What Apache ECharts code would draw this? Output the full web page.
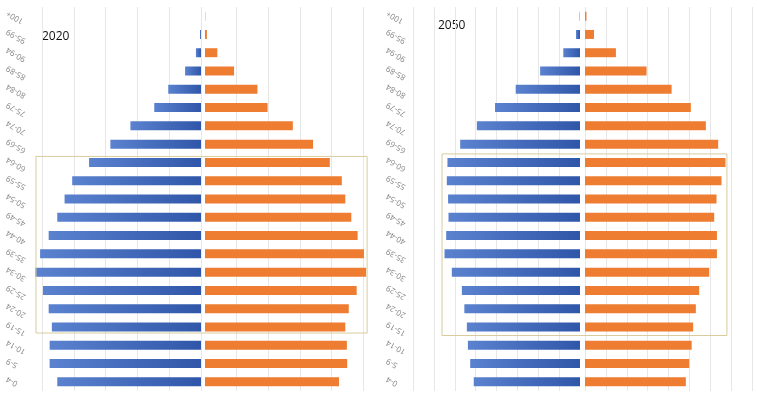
<!DOCTYPE html>
<html>
<head>
<meta charset="utf-8">
<script src="https://cdn.jsdelivr.net/npm/echarts@6/dist/echarts.min.js"></script>
<style>
html,body{margin:0;padding:0;background:#fff;}
#c{width:757px;height:394px;}
</style>
</head>
<body>
<div id="c"></div>
<script>
// Age groups, bottom to top
const categories = ['0-4','5-9','10-14','15-19','20-24','25-29','30-34','35-39','40-44','45-49','50-54','55-59','60-64','65-69','70-74','75-79','80-84','85-89','90-94','95-99','100+'];

// 2020 (units = one gridline step)
const male2020   = [4.52,4.76,4.76,4.69,4.79,4.97,5.21,5.06,4.79,4.52,4.29,4.05,3.52,2.85,2.22,1.47,1.03,0.50,0.16,0.03,0];
const female2020 = [4.24,4.50,4.49,4.44,4.55,4.80,5.10,5.03,4.83,4.63,4.44,4.33,3.95,3.42,2.78,1.98,1.66,0.92,0.39,0.06,0.01];

// 2050 (units = one gridline step)
const male2050   = [5.09,5.26,5.37,5.42,5.54,5.66,6.14,6.49,6.41,6.30,6.32,6.38,6.35,5.74,4.94,4.07,3.08,1.91,0.80,0.19,0.02];
const female2050 = [4.83,4.99,5.11,5.18,5.31,5.47,5.95,6.32,6.32,6.19,6.30,6.54,6.73,6.38,5.79,5.07,4.15,2.95,1.48,0.43,0.07];

const panelTitles = ['2020','2050'];
const axisMax = [5, 8];
// highlighted working-age band
const highlightFrom = '15-19';
const highlightTo = '60-64';

const chart = echarts.init(document.getElementById('c'));

const blueGrad = new echarts.graphic.LinearGradient(0,0,1,0,[
  {offset:0,color:'#5b82cf'},{offset:1,color:'#2f56a8'}
]);
const orange = '#ee7d31';
const gridColor = '#e7e7e7';

const grids = [
  {left:42, top:7, width:159, height:384},
  {left:205, top:7, width:158, height:384},
  {left:413, top:7, width:167, height:384},
  {left:585, top:7, width:167, height:384}
];

function xAx(gi, max, inverse, showZero){
  return {
    type:'value', gridIndex:gi, min:0, max:max, interval:1, inverse:inverse,
    axisLabel:{show:false}, axisLine:{show:false}, axisTick:{show:false},
    splitLine:{show:true, lineStyle:{color:gridColor,width:1}, showMinLine:showZero}
  };
}
function yAx(gi, showLabels, margin){
  return {
    type:'category', gridIndex:gi, data:categories,
    axisLine:{show:false, onZero:false}, axisTick:{show:false},
    axisLabel:{show:showLabels, rotate:150, fontSize:8, color:'#868686', margin:margin,
               align:'right', verticalAlign:'top', fontFamily:'Open Sans'},
    splitLine:{show:false}
  };
}

const option = {
  animation:false,
  backgroundColor:'#ffffff',
  grid: grids,
  xAxis:[
    xAx(0, axisMax[0], true, true),
    xAx(1, axisMax[0], false, false),
    xAx(2, axisMax[1], true, false),
    xAx(3, axisMax[1], false, true)
  ],
  yAxis:[ yAx(0,true,37), yAx(1,false,0), yAx(2,true,28), yAx(3,false,0) ],
  series:[
    {type:'bar', xAxisIndex:0, yAxisIndex:0, data:male2020, barWidth:9, clip:false, itemStyle:{color:blueGrad}},
    {type:'bar', xAxisIndex:1, yAxisIndex:1, data:female2020, barWidth:9, clip:false, itemStyle:{color:orange}},
    {type:'bar', xAxisIndex:2, yAxisIndex:2, data:male2050, barWidth:9, clip:false, itemStyle:{color:blueGrad}},
    {type:'bar', xAxisIndex:3, yAxisIndex:3, data:female2050, barWidth:9, clip:false, itemStyle:{color:orange}}
  ],
  graphic:[
    {type:'text', left:42, top:31, style:{text:panelTitles[0], font:'12px "Open Sans"', fill:'#111'}},
    {type:'text', left:438, top:20, style:{text:panelTitles[1], font:'12px "Open Sans"', fill:'#111'}}
  ]
};
chart.setOption(option);

// highlight rectangles placed through the axes
function boxFor(leftAxis, rightAxis, xl, xr, pad){
  const tl = chart.convertToPixel({xAxisIndex:leftAxis, yAxisIndex:leftAxis}, [xl, highlightTo]);
  const br = chart.convertToPixel({xAxisIndex:rightAxis, yAxisIndex:rightAxis}, [xr, highlightFrom]);
  return {
    type:'rect', silent:true, z:10,
    shape:{x:tl[0], y:tl[1]-pad, width:br[0]-tl[0], height:(br[1]+pad)-(tl[1]-pad)},
    style:{fill:'none', stroke:'#d9cc9c', lineWidth:1}
  };
}
option.graphic.push(boxFor(0,1,5.19,5.13,6));
option.graphic.push(boxFor(2,3,6.61,6.80,8.5));
chart.setOption({graphic:option.graphic});
</script>
</body>
</html>
